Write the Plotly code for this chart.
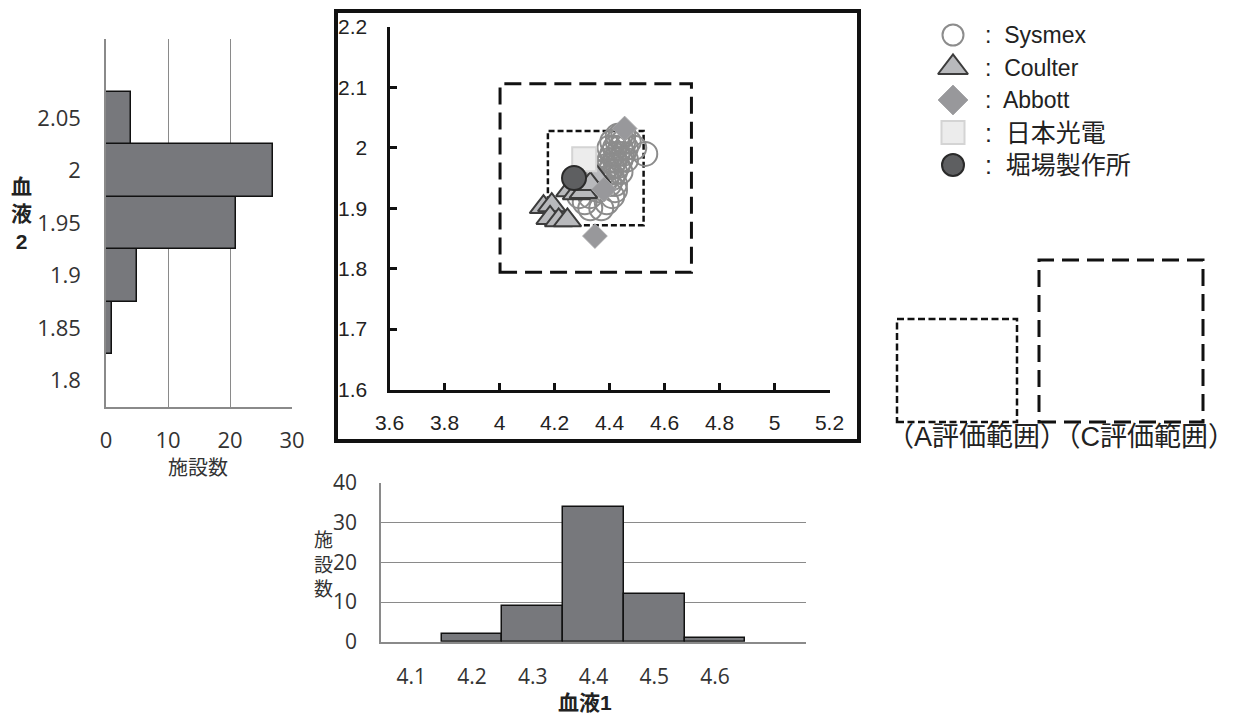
import plotly.graph_objects as go

W, H = 1238, 718

# ---- scatter data: 血液1 (x) vs 血液2 (y) by analyser maker ----
sysmex_x = [4.40, 4.41, 4.42, 4.43, 4.44, 4.45, 4.46, 4.47,
            4.41, 4.42, 4.43, 4.44, 4.45, 4.46,
            4.39, 4.40, 4.41, 4.42, 4.43, 4.44,
            4.38, 4.39, 4.40, 4.41, 4.42,
            4.43, 4.44, 4.45,
            4.53, 4.49,
            4.38, 4.36, 4.41, 4.39, 4.37, 4.33, 4.31, 4.33, 4.42, 4.35, 4.40, 4.29, 4.36]
sysmex_y = [2.00, 2.01, 2.00, 2.01, 2.00, 2.01, 2.00, 2.01,
            1.99, 1.98, 1.99, 1.98, 1.99, 1.98,
            1.97, 1.98, 1.97, 1.96, 1.97, 1.96,
            1.96, 1.95, 1.96, 1.95, 1.94,
            2.02, 2.02, 2.02,
            1.99, 2.00,
            1.94, 1.93, 1.92, 1.91, 1.90, 1.90, 1.91, 1.92, 1.93, 1.95, 1.94, 1.92, 1.96]
coulter_x = [4.16, 4.19, 4.184, 4.215, 4.247, 4.256, 4.28, 4.305, 4.353, 4.33]
coulter_y = [1.902, 1.905, 1.884, 1.88, 1.88, 1.93, 1.925, 1.927, 1.952, 1.94]
abbott_x = [4.455, 4.38, 4.347]
abbott_y = [2.032, 1.931, 1.854]
nihon_x = [4.308]
nihon_y = [1.981]
horiba_x = [4.271]
horiba_y = [1.950]

# evaluation target and ranges (A: ±4 %, C: ±8 %)
target_x, target_y = 4.35, 1.95
range_a, range_c = 0.04, 0.08

# ---- histograms ----
hist1_bins = [4.1, 4.2, 4.3, 4.4, 4.5, 4.6]
hist1_counts = [0, 2, 9, 34, 12, 1]
hist2_bins = [1.8, 1.85, 1.9, 1.95, 2.0, 2.05]
hist2_counts = [0, 1, 5, 21, 27, 4]
hist2_labels = ["1.8", "1.85", "1.9", "1.95", "2", "2.05"]

scatter_xticks = [3.6, 3.8, 4.0, 4.2, 4.4, 4.6, 4.8, 5.0, 5.2]
scatter_xlabels = ["3.6", "3.8", "4", "4.2", "4.4", "4.6", "4.8", "5", "5.2"]
scatter_yticks = [1.6, 1.7, 1.8, 1.9, 2.0, 2.1, 2.2]
scatter_ylabels = ["1.6", "1.7", "1.8", "1.9", "2", "2.1", "2.2"]

legend_names = ["Sysmex", "Coulter", "Abbott", "日本光電", "堀場製作所"]


def px(x):
    return x / W


def py(y):
    return 1 - y / H


def nonzero(bins, counts):
    pairs = [(b, c) for b, c in zip(bins, counts) if c > 0]
    return [p[0] for p in pairs], [p[1] for p in pairs]


SANS = "Liberation Sans, Arial, sans-serif"
HISTF = "Open Sans, Noto Sans, sans-serif"
JP = "Liberation Sans, Noto Sans CJK JP, sans-serif"

styles = [
    dict(symbol="circle-open", color="#8c8c8c", line=dict(color="#8c8c8c", width=2)),
    dict(symbol="triangle-up", color="#b8b9bc", line=dict(color="#3c3c3c", width=2)),
    dict(symbol="diamond", color="#98989b", line=dict(color="#a6a6a8", width=1)),
    dict(symbol="square", color="#ececec", line=dict(color="#d4d4d4", width=2)),
    dict(symbol="circle", color="#5e5f61", line=dict(color="#2a2a2a", width=2)),
]
scatter_sizes = [24, 24, 19, 24, 24]
legend_sizes = [21, 26, 23, 23, 22]

fig = go.Figure()

series = [(sysmex_x, sysmex_y), (coulter_x, coulter_y), (abbott_x, abbott_y),
          (nihon_x, nihon_y), (horiba_x, horiba_y)]
for (xs, ys), st, sz, name in zip(series, styles, scatter_sizes, legend_names):
    fig.add_trace(go.Scatter(x=xs, y=ys, mode="markers", name=name, showlegend=False,
                             marker=dict(size=sz, **st), xaxis="x", yaxis="y"))

# horizontal histogram of 血液2
b2, c2 = nonzero(hist2_bins, hist2_counts)
fig.add_trace(go.Bar(y=b2, x=c2, orientation="h", width=0.05,
                     marker=dict(color="#77787c", line=dict(color="#111111", width=1.5)),
                     showlegend=False, xaxis="x2", yaxis="y2"))

# vertical histogram of 血液1
b1, c1 = nonzero(hist1_bins, hist1_counts)
fig.add_trace(go.Bar(x=b1, y=c1, width=0.1,
                     marker=dict(color="#77787c", line=dict(color="#111111", width=1.5)),
                     showlegend=False, xaxis="x3", yaxis="y3"))

# key markers on a pixel-space overlay axis
key_x, key_y0, key_dy = 953, 35, 32.5
for i, (st, sz) in enumerate(zip(styles, legend_sizes)):
    fig.add_trace(go.Scatter(x=[key_x], y=[key_y0 + i * key_dy], mode="markers",
                             marker=dict(size=sz, **st), showlegend=False,
                             xaxis="x4", yaxis="y4", hoverinfo="skip"))

shapes = []
# evaluation boxes around the target
for frac, dash, lw in [(range_a, "6px,3px", 2.5), (range_c, "17px,8px", 3)]:
    shapes.append(dict(type="rect", xref="x", yref="y", layer="below",
                       x0=target_x * (1 - frac), x1=target_x * (1 + frac),
                       y0=target_y * (1 - frac), y1=target_y * (1 + frac),
                       line=dict(color="#111111", width=lw, dash=dash)))
# frame around the scatter panel
shapes.append(dict(type="rect", xref="paper", yref="paper",
                   x0=px(336), x1=px(859), y0=py(441), y1=py(11),
                   line=dict(color="#111111", width=4)))
# key boxes for the evaluation ranges
shapes.append(dict(type="rect", xref="paper", yref="paper",
                   x0=px(897), x1=px(1017), y0=py(422), y1=py(319),
                   line=dict(color="#111111", width=2.5, dash="7px,3.5px")))
shapes.append(dict(type="rect", xref="paper", yref="paper",
                   x0=px(1039), x1=px(1203), y0=py(422), y1=py(260),
                   line=dict(color="#111111", width=3, dash="17px,8px")))

annotations = []
for i, name in enumerate(legend_names):
    cjk = any(ord(c) > 0x3000 for c in name)
    annotations.append(dict(xref="paper", yref="paper", x=px(983), y=py(key_y0 + i * key_dy),
                            xanchor="left", yanchor="middle", showarrow=False,
                            text=":  " + name,
                            font=dict(family=JP, size=25 if cjk else 23, color="#222222")))
annotations += [
    dict(xref="paper", yref="paper", x=px(885), y=py(437), xanchor="left", yanchor="middle",
         showarrow=False, text="（A評価範囲）（C評価範囲）",
         font=dict(family=JP, size=27, color="#222222")),
    dict(xref="paper", yref="paper", x=px(198), y=py(468), xanchor="center", yanchor="middle",
         showarrow=False, text="施設数", font=dict(family=JP, size=20, color="#333333")),
    dict(xref="paper", yref="paper", x=px(21), y=py(214), xanchor="center", yanchor="middle",
         showarrow=False, text="<b>血<br>液<br>2</b>", font=dict(family=JP, size=21, color="#222222")),
    dict(xref="paper", yref="paper", x=px(323), y=py(565), xanchor="center", yanchor="middle",
         showarrow=False, text="施<br>設<br>数", font=dict(family=JP, size=19, color="#333333")),
    dict(xref="paper", yref="paper", x=px(585), y=py(702), xanchor="center", yanchor="middle",
         showarrow=False, text="<b>血液1</b>", font=dict(family=JP, size=21, color="#222222")),
]

GRID = "#8a8a8a"
fig.update_layout(
    width=W, height=H, autosize=False,
    margin=dict(l=0, r=0, t=0, b=0, pad=0, autoexpand=False),
    paper_bgcolor="white", plot_bgcolor="rgba(0,0,0,0)",
    showlegend=False, bargap=0,
    shapes=shapes, annotations=annotations,
    xaxis=dict(domain=[px(389.5), px(829.5)], range=[3.6, 5.2], anchor="y", automargin=False,
               tickvals=scatter_xticks, ticktext=scatter_xlabels,
               showline=True, linecolor="#111111", linewidth=3,
               ticks="inside", ticklen=7, tickwidth=3, tickcolor="#111111",
               showgrid=False, zeroline=False, ticklabelstandoff=12,
               tickfont=dict(family=SANS, size=21, color="#222222")),
    yaxis=dict(domain=[py(389.5), py(27)], range=[1.6, 2.2], anchor="x", automargin=False,
               tickvals=scatter_yticks, ticktext=scatter_ylabels,
               showline=True, linecolor="#111111", linewidth=3,
               ticks="inside", ticklen=7, tickwidth=3, tickcolor="#111111",
               showgrid=False, zeroline=False, ticklabelstandoff=15,
               tickfont=dict(family=SANS, size=21, color="#222222")),
    xaxis2=dict(domain=[px(106), px(292)], range=[0, 30], anchor="y2", automargin=False,
                tickvals=[0, 10, 20, 30], showgrid=True, gridcolor=GRID, gridwidth=1.2,
                showline=True, linecolor=GRID, linewidth=1.5, zeroline=False,
                ticks="", ticklabelstandoff=13,
                tickfont=dict(family=HISTF, size=22, color="#333333")),
    yaxis2=dict(domain=[py(407), py(39)], range=[1.775, 2.125], anchor="x2", automargin=False,
                tickvals=hist2_bins, ticktext=hist2_labels, showgrid=False,
                showline=True, linecolor=GRID, linewidth=1.5, zeroline=False,
                ticks="", ticklabelstandoff=19,
                tickfont=dict(family=HISTF, size=22, color="#333333")),
    xaxis3=dict(domain=[px(381), px(806)], range=[4.05, 4.75], anchor="y3", automargin=False,
                tickvals=hist1_bins, ticktext=[f"{v:.1f}" for v in hist1_bins],
                showgrid=False, showline=True, linecolor=GRID, linewidth=1.5,
                zeroline=False, ticks="", ticklabelstandoff=15,
                tickfont=dict(family=HISTF, size=21, color="#333333")),
    yaxis3=dict(domain=[py(641.7), py(483)], range=[0, 40], anchor="x3", automargin=False,
                tickvals=[0, 10, 20, 30, 40], showgrid=True, gridcolor=GRID, gridwidth=1.2,
                showline=True, linecolor=GRID, linewidth=1.5, zeroline=False,
                ticks="", ticklabelstandoff=18,
                tickfont=dict(family=HISTF, size=21, color="#333333")),
    xaxis4=dict(domain=[0, 1], range=[0, W], anchor="y4", visible=False, fixedrange=True,
                automargin=False),
    yaxis4=dict(domain=[0, 1], range=[H, 0], anchor="x4", visible=False, fixedrange=True,
                automargin=False),
)

# page without default body margin so the figure fills the window
fig.write_html(
    "out.html",
    post_script="document.body.style.margin='0';document.body.style.overflow='hidden';",
)
